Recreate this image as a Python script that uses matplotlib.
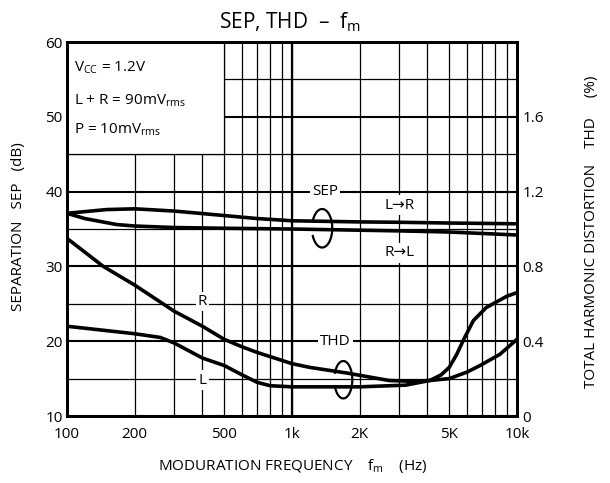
import matplotlib
matplotlib.use("Agg")
import matplotlib.pyplot as plt
from matplotlib.patches import Arc, Rectangle

plt.rcParams['font.family'] = ['Open Sans', 'DejaVu Sans']
plt.rcParams['mathtext.fontset'] = 'custom'
plt.rcParams['mathtext.rm'] = 'Open Sans'
plt.rcParams['mathtext.it'] = 'Open Sans'

# separation (dB) vs modulation frequency (Hz)
f_lr = [100, 150, 200, 300, 500, 700, 1000, 2000, 3000, 5000, 10000]
sep_lr = [37.1, 37.6, 37.7, 37.4, 36.8, 36.4, 36.1, 35.95, 35.9, 35.8, 35.7]
f_rl = [100, 120, 166, 200, 300, 500, 1000, 3000, 5000, 10000]
sep_rl = [37.1, 36.4, 35.6, 35.4, 35.2, 35.1, 35.0, 34.75, 34.6, 34.2]

# THD (%) vs modulation frequency (Hz)
f_r = [100, 145, 200, 300, 400, 500, 600, 700, 1000, 1200, 1750, 2700, 3500, 4100, 5000, 6000, 6850, 8400, 10000]
thd_r = [0.95, 0.80, 0.70, 0.56, 0.48, 0.41, 0.37, 0.34, 0.28, 0.26, 0.23, 0.19, 0.185, 0.19, 0.20, 0.235, 0.27, 0.33, 0.41]
f_l = [100, 200, 260, 300, 400, 500, 600, 700, 800, 1000, 2000, 3200, 4100, 4600, 5000, 5400, 5800, 6400, 7300, 9000, 10000]
thd_l = [0.48, 0.44, 0.42, 0.39, 0.31, 0.27, 0.22, 0.18, 0.162, 0.156, 0.156, 0.165, 0.19, 0.22, 0.26, 0.33, 0.41, 0.51, 0.58, 0.64, 0.66]

x_major = [100, 200, 500, 1000, 2000, 5000, 10000]
x_labels = ['100', '200', '500', '1k', '2K', '5K', '10k']
x_minor = [300, 400, 600, 700, 800, 900, 3000, 4000, 6000, 7000, 8000, 9000]
y_left = [10, 20, 30, 40, 50, 60]
y_right = [0, 0.4, 0.8, 1.2, 1.6]
y_right_labels = ['0', '0.4', '0.8', '1.2', '1.6']

fig = plt.figure(figsize=(6.1, 4.83), dpi=100)
ax = fig.add_axes([0.1098, 0.1387, 0.7377, 0.7743])
ax.set_xscale('log')
ax.set_xlim(100, 10000)
ax.set_ylim(10, 60)
ax.set_xticks(x_major, x_labels)
ax.set_xticks(x_minor, minor=True)
ax.set_xticklabels([], minor=True)
ax.set_yticks(y_left)
ax.set_yticks([15, 25, 35, 45, 55], minor=True)
ax.set_axisbelow(True)
ax.grid(which='major', axis='y', color='black', lw=1.5)
ax.grid(which='minor', axis='y', color='black', lw=0.9)
ax.grid(which='both', axis='x', color='black', lw=0.9)
ax.axvline(1000, color='black', lw=1.6, zorder=0.6)
ax.tick_params(which='both', length=0, labelsize=11, pad=3)
ax.tick_params(axis='x', pad=8)
for s in ax.spines.values():
    s.set_linewidth(2)

# blank box for conditions
ax.add_patch(Rectangle((100, 45), 400, 15, fc='white', ec='black', lw=0.9, zorder=0.8))
ax.text(107, 56.5, 'V$_{\\mathrm{CC}}$ = 1.2V', fontsize=11, va='center', zorder=3)
ax.text(107, 52.2, 'L + R = 90mV$_{\\mathrm{rms}}$', fontsize=11, va='center', zorder=3)
ax.text(107, 48.2, 'P = 10mV$_{\\mathrm{rms}}$', fontsize=11, va='center', zorder=3)

ax.plot(f_lr, sep_lr, color='black', lw=2.6, zorder=2)
ax.plot(f_rl, sep_rl, color='black', lw=2.6, zorder=2)

ax2 = ax.twinx()
ax2.set_ylim(0, 2.0)
ax2.set_yticks(y_right, y_right_labels)
ax2.tick_params(length=0, labelsize=11, pad=4)
for s in ax2.spines.values():
    s.set_linewidth(2)
ax2.plot(f_r, thd_r, color='black', lw=2.6)
ax2.plot(f_l, thd_l, color='black', lw=2.6)

box = dict(fc='white', ec='none', pad=1.5)
ax.text(1400, 40, 'SEP', fontsize=11, ha='center', va='center', bbox=box, zorder=3)
ax.text(3000, 38.2, 'L→R', fontsize=11, ha='center', va='center', bbox=box, zorder=3)
ax.text(3000, 31.8, 'R→L', fontsize=11, ha='center', va='center', bbox=box, zorder=3)
ax.text(400, 25.3, 'R', fontsize=11, ha='center', va='center', bbox=box, zorder=3)
ax.text(400, 14.8, 'L', fontsize=11, ha='center', va='center', bbox=box, zorder=3)
ax.text(1560, 20, 'THD', fontsize=11, ha='center', va='center', bbox=box, zorder=3)

ax.add_patch(Arc((0.567, 0.502), 0.045, 0.103, theta1=-140, theta2=140,
                 transform=ax.transAxes, color='black', lw=1.6, zorder=3))
ax.add_patch(Arc((0.614, 0.097), 0.040, 0.100, theta1=-140, theta2=140,
                 transform=ax.transAxes, color='black', lw=1.6, zorder=3))

fig.text(0.475, 0.955, 'SEP, THD  –  f$_{\\mathrm{m}}$', fontsize=15, ha='center', va='center')
fig.text(0.48, 0.035, 'MODURATION FREQUENCY    f$_{\\mathrm{m}}$    (Hz)', fontsize=11, ha='center', va='center')
fig.text(0.03, 0.53, 'SEPARATION   SEP   (dB)', fontsize=11, rotation=90, ha='center', va='center')
fig.text(0.97, 0.52, 'TOTAL HARMONIC DISTORTION    THD     (%)', fontsize=11, rotation=90, ha='center', va='center')

fig.savefig('out.png', dpi=100)
